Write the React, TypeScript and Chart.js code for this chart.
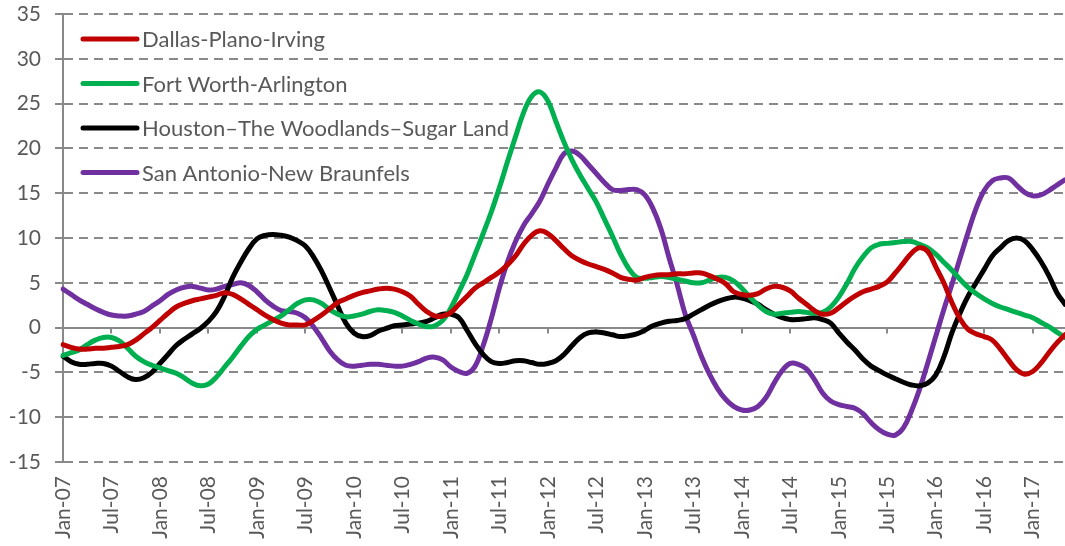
import React, { useEffect, useRef } from "react";
import { Chart, registerables } from "chart.js";

Chart.register(...registerables);

// ---- Data ----
const MONTH_NAMES = ["Jan", "Feb", "Mar", "Apr", "May", "Jun", "Jul", "Aug", "Sep", "Oct", "Nov", "Dec"];
const START_YEAR = 7; // 2007
const MONTH_COUNT = 125; // Jan-07 .. May-17
const categories: string[] = Array.from({ length: MONTH_COUNT }, (_, i) =>
  `${MONTH_NAMES[i % 12]}-${String(START_YEAR + Math.floor(i / 12)).padStart(2, "0")}`
);

const seriesNames = [
  "Dallas-Plano-Irving",
  "Fort Worth-Arlington",
  "Houston\u2013The Woodlands\u2013Sugar Land",
  "San Antonio-New Braunfels",
];

const dallas = [
  -1.9, -2.2, -2.4, -2.4, -2.3, -2.3, -2.2, -2.1, -1.9, -1.4, -0.7, 0.0,
  0.8, 1.6, 2.3, 2.7, 3.0, 3.2, 3.4, 3.6, 3.9, 3.7, 3.2, 2.6,
  2.0, 1.4, 0.9, 0.5, 0.3, 0.3, 0.3, 0.8, 1.4, 2.1, 2.8, 3.2,
  3.6, 3.9, 4.1, 4.3, 4.4, 4.3, 4.0, 3.5, 2.6, 1.8, 1.3, 1.3,
  1.7, 2.6, 3.5, 4.4, 5.0, 5.6, 6.2, 7.0, 8.0, 9.3, 10.3, 10.8,
  10.5, 9.7, 8.8, 8.0, 7.5, 7.1, 6.8, 6.5, 6.1, 5.6, 5.4, 5.3,
  5.6, 5.8, 5.9, 5.9, 6.0, 6.0, 6.1, 6.1, 5.8, 5.4, 4.9, 4.0,
  3.7, 3.6, 3.8, 4.3, 4.6, 4.5, 4.1, 3.3, 2.6, 1.9, 1.5, 1.6,
  2.2, 2.9, 3.5, 4.0, 4.3, 4.6, 5.1, 6.1, 7.2, 8.3, 8.9, 8.5,
  6.8, 5.0, 2.8, 1.0, -0.2, -0.7, -1.0, -1.4, -2.4, -3.6, -4.7, -5.2,
  -4.9, -4.0, -2.8, -1.7, -0.8,
];

const fortWorth = [
  -3.1, -2.8, -2.5, -1.9, -1.4, -1.1, -1.1, -1.5, -2.3, -3.2, -3.8, -4.2,
  -4.5, -4.8, -5.1, -5.6, -6.2, -6.5, -6.3, -5.5, -4.4, -3.3, -2.1, -1.0,
  -0.2, 0.3, 0.8, 1.3, 2.0, 2.7, 3.1, 3.1, 2.7, 2.0, 1.5, 1.2,
  1.3, 1.5, 1.8, 2.0, 1.9, 1.7, 1.3, 0.8, 0.4, 0.1, 0.2, 0.8,
  2.2, 4.0, 5.9, 8.2, 10.5, 12.9, 15.6, 18.5, 21.3, 24.0, 25.8, 26.3,
  25.3, 23.0, 20.7, 18.7, 17.0, 15.5, 14.0, 12.1, 10.2, 8.2, 6.6, 5.6,
  5.5, 5.6, 5.7, 5.6, 5.4, 5.2, 5.0, 5.0, 5.3, 5.6, 5.6, 5.2,
  4.4, 3.4, 2.5, 1.8, 1.5, 1.6, 1.7, 1.8, 1.7, 1.6, 1.7, 2.3,
  3.4, 4.9, 6.6, 7.9, 8.9, 9.3, 9.4, 9.5, 9.6, 9.6, 9.3, 8.9,
  8.2, 7.3, 6.4, 5.4, 4.5, 3.8, 3.2, 2.7, 2.3, 2.0, 1.7, 1.4,
  1.1, 0.6, 0.1, -0.5, -1.1,
];

const houston = [
  -3.2, -3.8, -4.1, -4.1, -4.0, -4.0, -4.3, -4.9, -5.5, -5.8, -5.6, -5.0,
  -4.0, -3.0, -2.0, -1.3, -0.7, -0.1, 0.7, 1.8, 3.5, 5.6, 7.3, 8.8,
  9.9, 10.3, 10.4, 10.3, 10.1, 9.7, 9.1, 7.9, 6.3, 4.4, 2.4, 0.5,
  -0.6, -1.0, -0.9, -0.4, -0.1, 0.2, 0.3, 0.4, 0.5, 0.7, 1.1, 1.5,
  1.5, 1.1, -0.3, -1.8, -3.0, -3.8, -4.0, -3.9, -3.7, -3.7, -3.9, -4.1,
  -4.0, -3.7, -3.0, -2.0, -1.1, -0.6, -0.5, -0.6, -0.8, -1.0, -0.9, -0.7,
  -0.3, 0.2, 0.5, 0.7, 0.8, 1.0, 1.5, 2.0, 2.5, 2.9, 3.2, 3.4,
  3.3, 3.0, 2.6, 2.0, 1.5, 1.1, 0.9, 0.9, 1.0, 1.1, 0.9, 0.5,
  -0.6, -1.6, -2.5, -3.5, -4.3, -4.8, -5.3, -5.7, -6.1, -6.4, -6.5, -6.2,
  -5.3, -3.3, -0.6, 1.6, 3.5, 5.0, 6.5, 8.0, 8.9, 9.7, 10.0, 9.7,
  8.7, 7.4, 5.8, 3.9, 2.6,
];

const sanAntonio = [
  4.3, 3.7, 3.1, 2.6, 2.1, 1.7, 1.4, 1.3, 1.3, 1.5, 1.8, 2.4,
  3.0, 3.7, 4.2, 4.5, 4.6, 4.4, 4.2, 4.3, 4.6, 4.8, 5.0, 4.7,
  4.0, 3.1, 2.4, 1.9, 1.8, 1.6, 1.1, 0.1, -1.2, -2.6, -3.6, -4.2,
  -4.3, -4.2, -4.1, -4.1, -4.2, -4.3, -4.3, -4.1, -3.8, -3.4, -3.3, -3.6,
  -4.4, -4.9, -5.1, -4.3, -2.0, 1.0, 4.4, 7.3, 9.6, 11.4, 12.7, 14.1,
  16.0, 17.8, 19.4, 19.7, 19.2, 18.2, 17.2, 16.2, 15.4, 15.3, 15.4, 15.4,
  14.8, 13.3, 11.0, 7.8, 4.8, 1.5, -0.8, -3.2, -5.2, -6.8, -8.0, -8.8,
  -9.2, -9.2, -8.8, -7.8, -6.2, -4.8, -4.0, -4.1, -4.6, -5.8, -7.3, -8.2,
  -8.6, -8.8, -9.0, -9.6, -10.6, -11.4, -11.9, -12.0, -11.2, -9.3, -6.9, -4.0,
  -1.0, 2.0, 4.8, 7.7, 10.6, 13.3, 15.3, 16.4, 16.7, 16.7, 15.9, 15.1,
  14.7, 14.8, 15.3, 15.9, 16.5,
];

const seriesValues = [dallas, fortWorth, houston, sanAntonio];
const seriesColors = ["#C00000", "#00B050", "#000000", "#7030A0"];

const Y_MIN = -15;
const Y_MAX = 35;
const Y_STEP = 5;
const LABEL_EVERY = 6;

// ---- Styles ----
const AXIS_GRAY = "#898989";
const TEXT_GRAY = "#595959";
const FONT_FAMILY = "Lato, 'Noto Sans', sans-serif";

const zeroAxisPlugin = {
  id: "zeroAxis",
  beforeDatasetsDraw(chart: any) {
    const { ctx, scales } = chart;
    const xs = scales.x;
    const ys = scales.y;
    const y0 = ys.getPixelForValue(0);
    ctx.save();
    ctx.strokeStyle = AXIS_GRAY;
    ctx.lineWidth = 2;
    ctx.beginPath();
    for (let i = 0; i < categories.length; i += LABEL_EVERY) {
      const x = Math.round(xs.getPixelForValue(i));
      ctx.moveTo(x, y0);
      ctx.lineTo(x, y0 + 6);
    }
    ctx.stroke();
    ctx.restore();
  },
};

const insideLegendPlugin = {
  id: "insideLegend",
  afterDatasetsDraw(chart: any) {
    const { ctx, chartArea } = chart;
    ctx.save();
    ctx.font = `22px ${FONT_FAMILY}`;
    ctx.textBaseline = "middle";
    ctx.textAlign = "left";
    chart.data.datasets.forEach((ds: any, k: number) => {
      const y = chartArea.top + 25 + 44.5 * k;
      const x0 = chartArea.left + 20;
      ctx.strokeStyle = ds.borderColor;
      ctx.lineWidth = 5;
      ctx.lineCap = "round";
      ctx.beginPath();
      ctx.moveTo(x0, y);
      ctx.lineTo(x0 + 54, y);
      ctx.stroke();
      ctx.fillStyle = TEXT_GRAY;
      ctx.fillText(ds.label, x0 + 59, y + 1);
    });
    ctx.restore();
  },
};

export default function App() {
  const canvasRef = useRef<HTMLCanvasElement | null>(null);

  useEffect(() => {
    if (!canvasRef.current) return;
    const chart = new Chart(canvasRef.current, {
      type: "line",
      data: {
        labels: categories,
        datasets: seriesNames.map((name, k) => ({
          label: name,
          data: seriesValues[k],
          borderColor: seriesColors[k],
          backgroundColor: seriesColors[k],
          borderWidth: 5,
          pointRadius: 0,
          pointHoverRadius: 0,
          tension: 0.4,
          fill: false,
          borderCapStyle: "round",
          borderJoinStyle: "round",
        })),
      },
      options: {
        animation: false,
        responsive: false,
        devicePixelRatio: 1,
        layout: { padding: { top: 14, right: 0, left: 0, bottom: 0 } },
        plugins: {
          legend: { display: false },
          tooltip: { enabled: false },
        },
        scales: {
          x: {
            type: "category",
            offset: false,
            grid: { display: false, drawTicks: false },
            border: { display: false },
            ticks: {
              autoSkip: false,
              maxRotation: 90,
              minRotation: 90,
              padding: 14,
              color: TEXT_GRAY,
              font: { family: FONT_FAMILY, size: 21 },
              callback: (_v: any, idx: number) => (idx % LABEL_EVERY === 0 ? categories[idx] : null),
            },
            afterFit: (s: any) => {
              s.height = 84;
              s.paddingLeft = 0;
              s.paddingRight = 0;
            },
          },
          y: {
            min: Y_MIN,
            max: Y_MAX,
            ticks: {
              stepSize: Y_STEP,
              padding: 14,
              color: TEXT_GRAY,
              font: { family: FONT_FAMILY, size: 21 },
            },
            grid: {
              color: AXIS_GRAY,
              lineWidth: 2,
              drawTicks: true,
              tickLength: 8,
              tickColor: AXIS_GRAY,
              tickWidth: 2,
              tickBorderDash: [],
            },
            border: {
              display: true,
              color: AXIS_GRAY,
              width: 2,
              dash: (c: any) => (c.tick && c.tick.value === 0 ? [] : [9, 6]),
            },
            afterFit: (s: any) => {
              s.width = 63;
              s.paddingTop = 0;
              s.paddingBottom = 0;
            },
          },
        },
      },
      plugins: [zeroAxisPlugin, insideLegendPlugin],
    });
    return () => chart.destroy();
  }, []);

  return (
    <div style={{ position: "fixed", left: 0, top: 0, width: 1065, height: 546, background: "#fff" }}>
      <canvas ref={canvasRef} width={1065} height={546} style={{ width: 1065, height: 546, display: "block" }} />
    </div>
  );
}
